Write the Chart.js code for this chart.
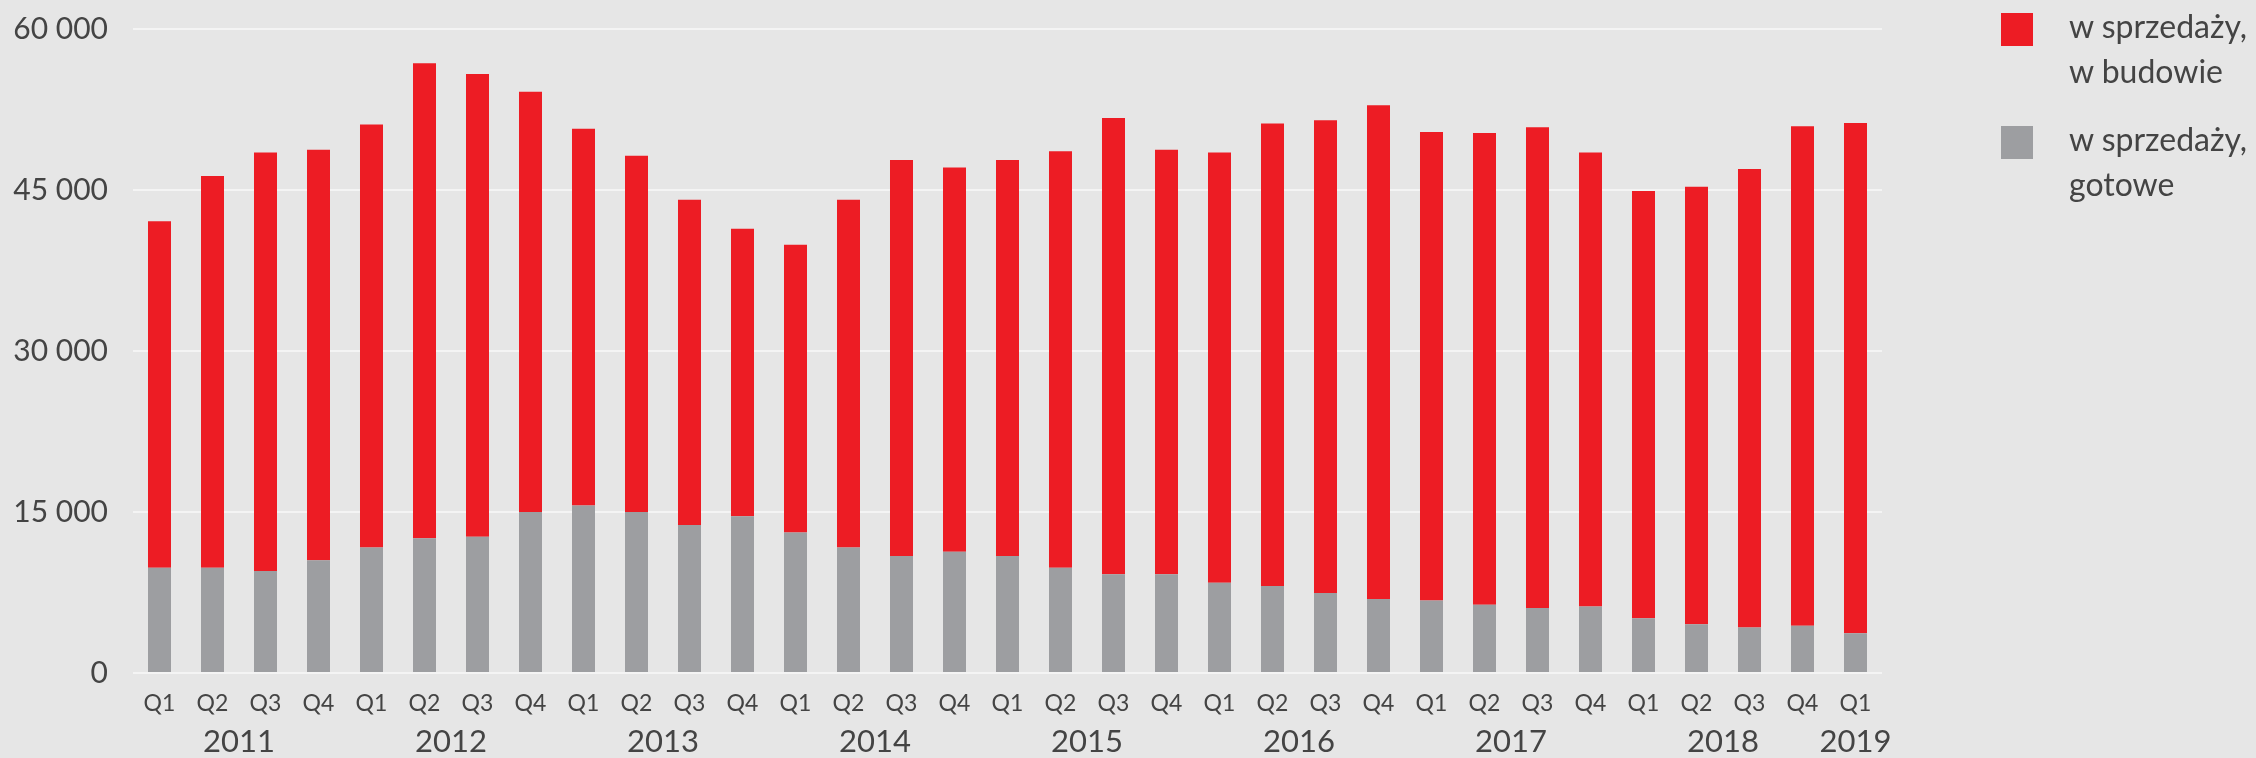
<!DOCTYPE html>
<html>
<head>
<meta charset="utf-8">
<script src="https://cdn.jsdelivr.net/npm/chart.js@4"></script>
<style>
  html, body { margin: 0; padding: 0; background: #e6e6e6; }
  #wrap { position: relative; width: 2256px; height: 758px; }
  #c { position: absolute; left: 0; top: 0; }
  .leg { position: absolute; font-family: Lato, "Open Sans", sans-serif; font-size: 32px; line-height: 45px; color: #444; white-space: nowrap; }
  .sw { position: absolute; width: 32px; height: 33px; }
</style>
</head>
<body>
<div id="wrap">
  <canvas id="c" width="2256" height="758"></canvas>
</div>
<script>
// ---- data ----
const quarters = [
  'Q1','Q2','Q3','Q4', 'Q1','Q2','Q3','Q4', 'Q1','Q2','Q3','Q4', 'Q1','Q2','Q3','Q4',
  'Q1','Q2','Q3','Q4', 'Q1','Q2','Q3','Q4', 'Q1','Q2','Q3','Q4', 'Q1','Q2','Q3','Q4', 'Q1'
];
const years = ['2011','2012','2013','2014','2015','2016','2017','2018','2019'];
const quartersPerYear = [4,4,4,4,4,4,4,4,1];

// w sprzedaży, gotowe (grey, bottom)
const readyUnits = [
  9800, 9800, 9500, 10500, 11700, 12550, 12700, 15000, 15600, 15000, 13800,
  14600, 13100, 11700, 10900, 11300, 10900, 9800, 9200, 9200, 8400, 8100,
  7450, 6900, 6750, 6350, 6050, 6200, 5100, 4550, 4250, 4400, 3700
];
// w sprzedaży, w budowie (red, top)
const underConstructionUnits = [
  32300, 36500, 39000, 38250, 39400, 44250, 43100, 39150, 35100, 33200, 30300,
  26800, 26800, 32400, 36900, 35800, 36900, 38800, 42500, 39550, 40100, 43100,
  44050, 46000, 43650, 43950, 44800, 42300, 39800, 40750, 42700, 46550, 47550
];
const yTicks = [0, 15000, 30000, 45000, 60000];
const seriesNames = [['w sprzedaży,', 'w budowie'], ['w sprzedaży,', 'gotowe']];

// ---- styles ----
const RED = '#ed1c24';
const GREY = '#9d9ea1';
const TXT = '#444444';
const FONT = 'Lato, "Open Sans", sans-serif';

const yearPlugin = {
  id: 'yearLabels',
  afterDraw(chart) {
    const x = chart.scales.x;
    const ctx = chart.ctx;
    ctx.save();
    ctx.fillStyle = TXT;
    ctx.font = '31px ' + FONT;
    ctx.textAlign = 'center';
    ctx.textBaseline = 'middle';
    let idx = 0;
    years.forEach((y, i) => {
      const first = idx, last = idx + quartersPerYear[i] - 1;
      const cx = (x.getPixelForValue(first) + x.getPixelForValue(last)) / 2;
      ctx.fillText(y, cx, 742);
      idx += quartersPerYear[i];
    });
    ctx.restore();
  }
};

new Chart(document.getElementById('c'), {
  type: 'bar',
  data: {
    labels: quarters,
    datasets: [
      { label: seriesNames[1].join(' '), data: readyUnits, backgroundColor: GREY, borderWidth: 0 },
      { label: seriesNames[0].join(' '), data: underConstructionUnits, backgroundColor: RED, borderWidth: 0 }
    ]
  },
  options: {
    responsive: false,
    devicePixelRatio: 1,
    animation: false,
    layout: { padding: { left: 0, right: 374, top: 29, bottom: 0 } },
    plugins: { legend: { display: false }, tooltip: { enabled: false } },
    datasets: { bar: { categoryPercentage: 1, barPercentage: 0.434 } },
    scales: {
      x: {
        stacked: true,
        grid: { display: false, drawTicks: false },
        border: { display: false },
        ticks: { color: TXT, font: { family: FONT, size: 23 }, padding: 17, maxRotation: 0, autoSkip: false },
        afterFit(s) { s.height = 85; }
      },
      y: {
        stacked: true,
        min: 0, max: 60000,
        afterBuildTicks(s) { s.ticks = yTicks.map(v => ({ value: v })); },
        grid: { color: '#f4f4f4', lineWidth: 2, drawTicks: true, tickLength: 16, tickColor: 'rgba(0,0,0,0)' },
        border: { display: false },
        ticks: {
          color: TXT, font: { family: FONT, size: 30 }, padding: 9,
          callback: v => String(v).replace(/\B(?=(\d{3})+(?!\d))/g, ' ')
        },
        afterFit(s) { s.width = 133; }
      }
    }
  },
  plugins: [yearPlugin]
});

// ---- legend (HTML text) ----
const wrap = document.getElementById('wrap');
const legendItems = [
  { color: RED, lines: seriesNames[0], top: 13 },
  { color: GREY, lines: seriesNames[1], top: 126 }
];
legendItems.forEach(it => {
  const sw = document.createElement('div');
  sw.className = 'sw';
  sw.style.left = '2001px';
  sw.style.top = it.top + 'px';
  sw.style.background = it.color;
  wrap.appendChild(sw);
  const t = document.createElement('div');
  t.className = 'leg';
  t.style.left = '2069px';
  t.style.top = (it.top - 10) + 'px';
  t.innerHTML = it.lines.join('<br>');
  wrap.appendChild(t);
});
</script>
</body>
</html>
